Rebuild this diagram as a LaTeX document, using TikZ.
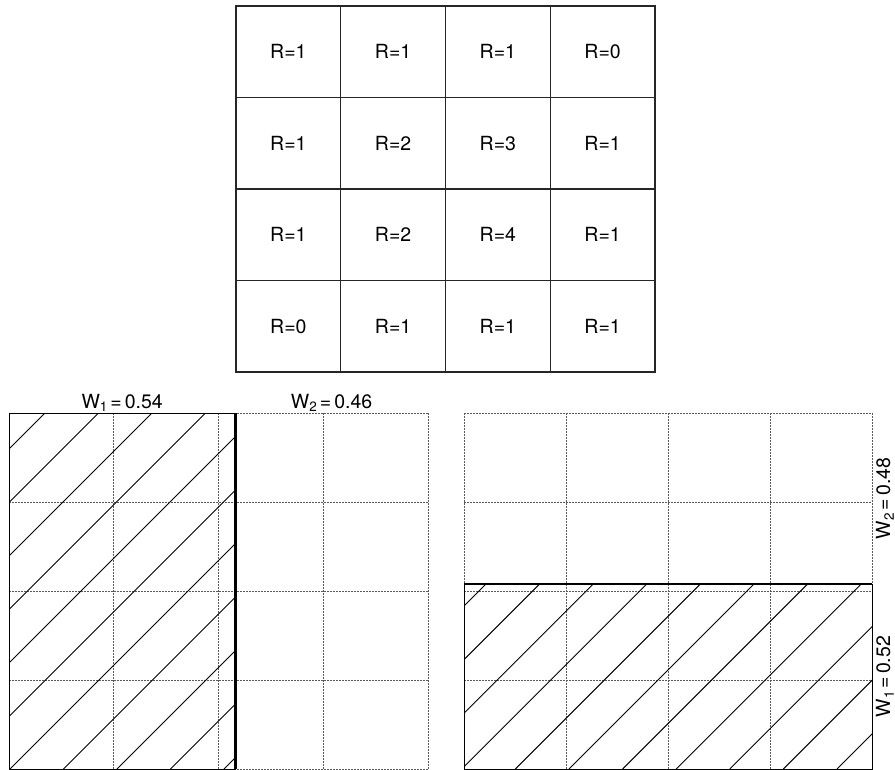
\documentclass[tikz,border=0pt]{standalone}
\usepackage{fontspec}
\setmainfont{TeX Gyre Heros}
\newcommand{\Wlab}[2]{W\raisebox{-3.8pt}{\fontsize{13.5}{13.5}\selectfont #1}\hspace{3pt}=\hspace{3pt}#2}
\begin{document}
\begin{tikzpicture}[x=1pt,y=-1pt,
  cell/.style={draw=black!85, line width=1.3pt, minimum width=104.75pt, minimum height=91.5pt, inner sep=0pt, font=\fontsize{19.5}{19.5}\selectfont},
  gridline/.style={draw=black!65, line width=1pt, dash pattern=on 1.5pt off 1.5pt},
  hatch/.style={line width=0.95pt},
  border/.style={line width=0.9pt},
  heavyline/.style={line width=2.5pt},
  wlabel/.style={font=\fontsize{19.5}{19.5}\selectfont, inner sep=0pt}]
\useasboundingbox (0,0) rectangle (895,770);
% top grid of cells
\foreach \vals [count=\i] in {{1,1,1,0},{1,2,3,1},{1,2,4,1},{0,1,1,1}} {
  \foreach \v [count=\j] in \vals {
    \node[cell] (c\i\j) at ({236+104.75*(\j-0.5)}, {6+91.5*(\i-0.5)}) {R=\v};
  }
}
% bottom-left dotted grid
\foreach \x in {9,113.75,218.5,323.25,428} \draw[gridline] (\x,413) -- (\x,769);
\foreach \y in {413,502,591,680,769} \draw[gridline] (9,\y) -- (428,\y);
% bottom-right dotted grid
\foreach \x in {464,566,668,770,872} \draw[gridline] (\x,413) -- (\x,769);
\foreach \y in {413,502,591,680,769} \draw[gridline] (464,\y) -- (872,\y);
% hatching left
\begin{scope}
  \clip (9,413) rectangle (235.3,769);
  \foreach \c in {458,511.5,...,1000} \draw[hatch] ({\c-769},769) -- ({\c-413},413);
\end{scope}
% hatching right
\begin{scope}
  \clip (464,584) rectangle (872,769);
  \foreach \c in {1070,1123.6,...,1650} \draw[hatch] ({\c-769},769) -- ({\c-584},584);
\end{scope}
% borders
\draw[border] (9,413) rectangle (235.3,769);
\draw[heavyline] (235.3,413) -- (235.3,769);
\draw[border] (464,584) rectangle (872,769);
\draw[heavyline] (464,584) -- (872,584);
% labels
\node[wlabel, anchor=base] (w1a) at (122.2,408) {\Wlab{1}{0.54}};
\node[wlabel, anchor=base] (w2a) at (331.6,408) {\Wlab{2}{0.46}};
\node[wlabel, anchor=base, rotate=90] (w2b) at (890,498.5) {\Wlab{2}{0.48}};
\node[wlabel, anchor=base, rotate=90] (w1b) at (890,676.5) {\Wlab{1}{0.52}};
\end{tikzpicture}
\end{document}
